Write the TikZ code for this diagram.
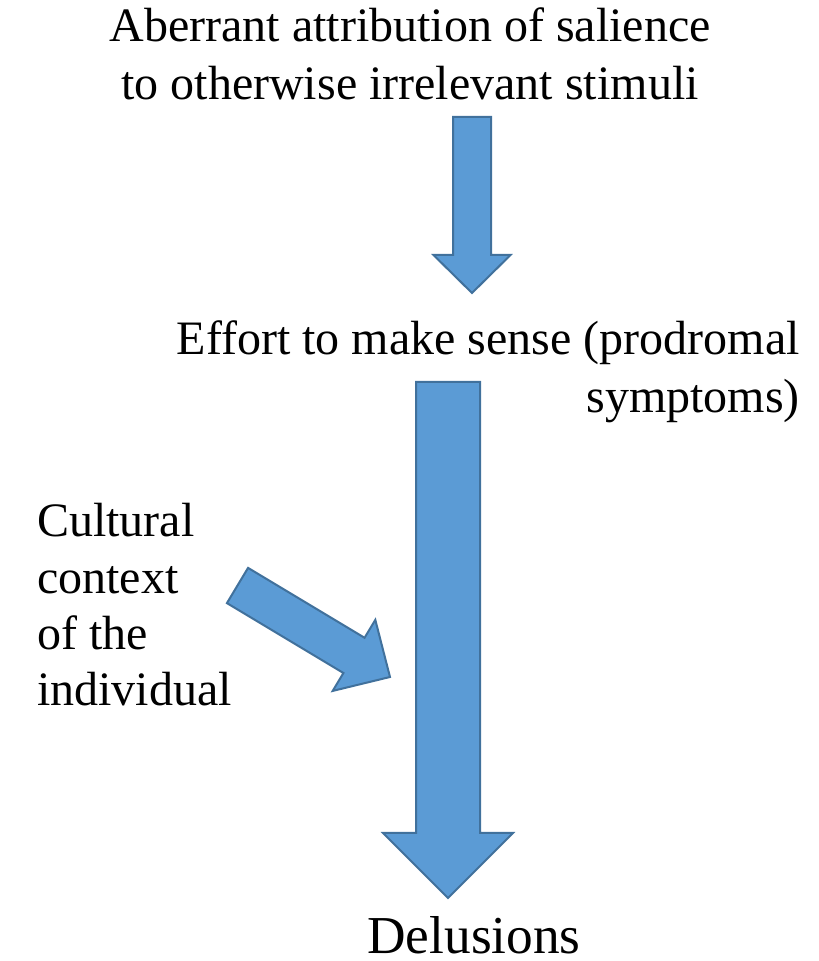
\documentclass[tikz,border=0pt]{standalone}
\usepackage{fontspec}
\setmainfont{Liberation Serif}
\usepackage{tikz}
\usetikzlibrary{positioning,calc}

\definecolor{arrowfill}{HTML}{5B9BD5}
\definecolor{arrowline}{HTML}{41719C}

% block arrow: tail, tip, half shaft width, half head width, head length
\newcommand{\fatarrow}[5]{%
  \coordinate (hb) at ($(#2)!#5!(#1)$);
  \draw[blockarrow] ($(#1)!#3!90:(#2)$) -- ($(hb)!#3!90:(#2)$) -- ($(hb)!#4!90:(#2)$)
    -- (#2) -- ($(hb)!#4!-90:(#2)$) -- ($(hb)!#3!-90:(#2)$) -- ($(#1)!#3!-90:(#2)$) -- cycle;
}

\begin{document}
\begin{tikzpicture}[
    x=0.75bp, y=0.75bp,
    blockarrow/.style={fill=arrowfill, draw=arrowline, line width=1.5bp, line join=miter},
    txt/.style={inner sep=0pt, font=\fontsize{36bp}{43.5bp}\selectfont}
]
\useasboundingbox (0,0) rectangle (819,961);

% Texts (base = baseline of the last line)
\node[txt, anchor=base, align=center] (salience) at (410,861)
    {Aberrant attribution of salience\\to otherwise irrelevant stimuli};
\node[txt, anchor=base east, align=right] (effort) at (800,548)
    {Effort to make sense (prodromal\\symptoms)};
\node[txt, anchor=base west, align=left, font=\fontsize{36bp}{42.3bp}\selectfont] (culture) at (37,255)
    {Cultural\\context\\of the\\individual};
\node[txt, anchor=base, font=\fontsize{40bp}{48bp}\selectfont] (delusions) at (474,8) {Delusions};

% Arrow ends
\coordinate (t1) at (472,844);
\coordinate (h1) at (472,668);
\coordinate (t2) at (448,579);
\coordinate (h2) at (448,63);
\coordinate (t3) at (237.5,375.5);
\coordinate (h3) at (390,284);

% Arrows
\fatarrow{t1}{h1}{14.25bp}{28.9bp}{28.5bp}
\fatarrow{t2}{h2}{24bp}{48.75bp}{48.75bp}
\fatarrow{t3}{h3}{15.4bp}{31.1bp}{31.5bp}

\end{tikzpicture}
\end{document}
